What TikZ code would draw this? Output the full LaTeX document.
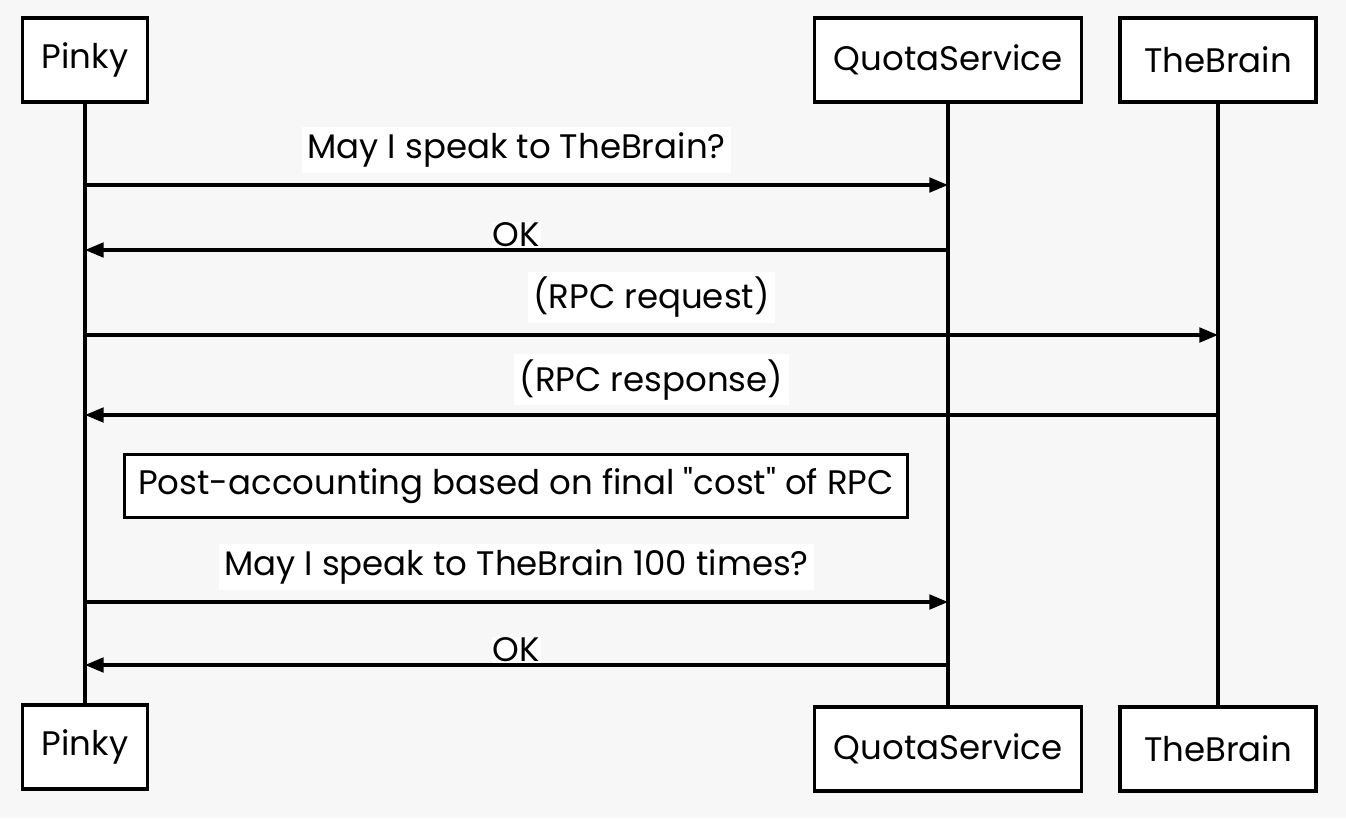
\documentclass[tikz,border=0pt]{standalone}
\usepackage{fontspec}
\newfontfamily\handfont{Poppins}
\usepackage{tikz}
\usetikzlibrary{arrows.meta,positioning}
\definecolor{paper}{HTML}{F7F7F7}
\newcommand{\hand}{\handfont\fontsize{25.5}{30}\selectfont}

\begin{document}
\begin{tikzpicture}[x=0.75pt,y=-0.75pt,line width=2.3pt,
  actor/.style={draw,fill=white,line width=2.6pt,minimum height=63pt,inner sep=0pt,font=\hand},
  msg/.style={-{Triangle[length=14pt,width=11pt]}},
  lbl/.style={fill=white,inner sep=4pt,font=\hand},
  note/.style={draw,fill=white,line width=2.6pt,minimum width=587pt,minimum height=47pt,inner sep=0pt,font=\hand}]
\fill[paper] (0,0) rectangle (1346,818);
\useasboundingbox (0,0) rectangle (1346,818);
% participants
\node[actor,minimum width=94pt] (pinkyT) at (85,60) {Pinky};
\node[actor,minimum width=200pt] (quotaT) at (948,60) {QuotaService};
\node[actor,minimum width=147pt] (brainT) at (1218,60) {TheBrain};
\node[actor,minimum width=94pt] (pinkyB) at (85,747) {Pinky};
\node[actor,minimum width=200pt] (quotaB) at (948,749) {QuotaService};
\node[actor,minimum width=147pt] (brainB) at (1218,749) {TheBrain};
% lifelines
\draw (pinkyT) -- (pinkyB);
\draw (quotaT) -- (quotaB);
\draw (brainT) -- (brainB);
% message ends
\coordinate (p1) at (pinkyT |- 0,185); \coordinate (q1) at (quotaT |- 0,185);
\coordinate (p2) at (pinkyT |- 0,250); \coordinate (q2) at (quotaT |- 0,250);
\coordinate (p3) at (pinkyT |- 0,335); \coordinate (b3) at (brainT |- 0,335);
\coordinate (p4) at (pinkyT |- 0,415); \coordinate (b4) at (brainT |- 0,415);
\coordinate (p6) at (pinkyT |- 0,602); \coordinate (q6) at (quotaT |- 0,602);
\coordinate (p7) at (pinkyT |- 0,665); \coordinate (q7) at (quotaT |- 0,665);
% messages
\draw[msg] (p1) -- node[lbl,above=8pt] {May I speak to TheBrain?} (q1);
\draw[msg] (q2) -- node[lbl,above=0pt,inner sep=1pt] {OK} (p2);
\draw[msg] (p3) -- node[lbl,above=8pt] {(RPC request)} (b3);
\draw[msg] (b4) -- node[lbl,above=6pt] {(RPC response)} (p4);
\node[note] (post) at (516,486) {Post-accounting based on final "cost" of RPC};
\draw[msg] (p6) -- node[lbl,above=8pt] {May I speak to TheBrain 100 times?} (q6);
\draw[msg] (q7) -- node[lbl,above=0pt,inner sep=1pt] {OK} (p7);
\end{tikzpicture}
\end{document}
